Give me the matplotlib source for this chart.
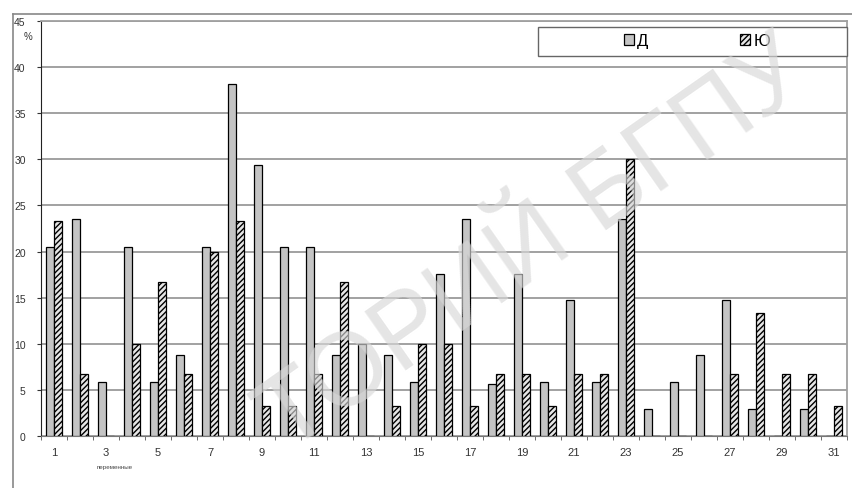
import numpy as np
import matplotlib.pyplot as plt
from matplotlib.lines import Line2D
from matplotlib.patches import Rectangle

plt.rcParams['font.family'] = ['Liberation Sans', 'DejaVu Sans']
plt.rcParams['hatch.linewidth'] = 1.0

# данные (%), читаются с графика
categories = list(range(1, 32))
d_values = [20.5, 23.5, 5.9, 20.5, 5.9, 8.8, 20.5, 38.2, 29.4, 20.5,
            20.5, 8.8, 10.0, 8.8, 5.9, 17.6, 23.5, 5.6, 17.6, 5.9,
            14.7, 5.9, 23.5, 2.9, 5.9, 8.8, 14.7, 2.9, 0.0, 2.9, 0.0]
yu_values = [23.3, 6.7, 0.0, 10.0, 16.7, 6.7, 20.0, 23.3, 3.3, 3.3,
             6.7, 16.7, 0.0, 3.3, 10.0, 10.0, 3.3, 6.7, 6.7, 3.3,
             6.7, 6.7, 30.0, 0.0, 0.0, 0.0, 6.7, 13.3, 6.7, 6.7, 3.3]
y_ticks = [0, 5, 10, 15, 20, 25, 30, 35, 40, 45]
x_labels = [str(c) if c % 2 == 1 else '' for c in categories]

W, H = 852, 489
fig = plt.figure(figsize=(W / 100, H / 100), dpi=100)
ax = fig.add_axes([41 / W, 1 - 437 / H, (847 - 41) / W, (437 - 22) / H])

x = np.array(categories)
bw = 0.31
ax.bar(x - bw / 2, d_values, width=bw, color='#c4c4c4', edgecolor='black',
       linewidth=0.9, zorder=3, label='Д')
ax.bar(x + bw / 2, yu_values, width=bw, color='#e6e6e6', edgecolor='black',
       linewidth=0.9, hatch='//////', zorder=3, label='Ю')

ax.set_xlim(0.5, 31.5)
ax.set_ylim(0, 45)
ax.set_yticks(y_ticks)
ax.set_xticks(x)
ax.set_xticklabels(x_labels)
ax.set_xticks(np.arange(0.5, 32, 1), minor=True)
ax.tick_params(axis='x', which='major', length=0, pad=8, labelsize=8, colors='#333333')
ax.tick_params(axis='x', which='minor', length=3, direction='out', color='#555555')
ax.tick_params(axis='y', length=3, direction='out', pad=8, labelsize=7.5, colors='#333333')
ax.yaxis.grid(True, color='#9a9a9a', linewidth=1.3, zorder=0)
ax.set_axisbelow(True)

for s in ['top', 'right']:
    ax.spines[s].set_color('#a0a0a0')
    ax.spines[s].set_linewidth(1.3)
ax.spines['left'].set_color('#222222')
ax.spines['bottom'].set_color('#777777')

# рамка области диаграммы
fig.add_artist(Line2D([13 / W, 13 / W], [0, 1 - 15 / H], color='#888888', lw=1.2))
fig.add_artist(Line2D([13 / W, 1], [1 - 15 / H, 1 - 15 / H], color='#888888', lw=1.2))

fig.text(28 / W, 1 - 37 / H, '%', fontsize=7, color='#333333', ha='center', va='center')
fig.text(115 / W, 1 - 468 / H, 'переменные', fontsize=4.5, color='#444444',
         ha='center', va='center')

# легенда
fig.add_artist(Rectangle((538 / W, 1 - 57 / H), (847 - 538) / W, 29 / H,
                         transform=fig.transFigure, facecolor='white',
                         edgecolor='#666666', lw=1.0, zorder=5))
leg = fig.legend(loc='center', bbox_to_anchor=(697 / W, 1 - 42 / H), ncol=2,
                 frameon=False, fontsize=12, handlelength=0.6, handleheight=0.6,
                 handletextpad=0.2, columnspacing=5.5)
leg.set_zorder(6)

# водяной знак
fig.text(535 / W, 1 - 248 / H, 'ТОРИЙ БГПУ', fontsize=74, color='#d8d8d8',
         alpha=0.65, rotation=35, ha='center', va='center', zorder=10)

fig.savefig('out.png', dpi=100)
